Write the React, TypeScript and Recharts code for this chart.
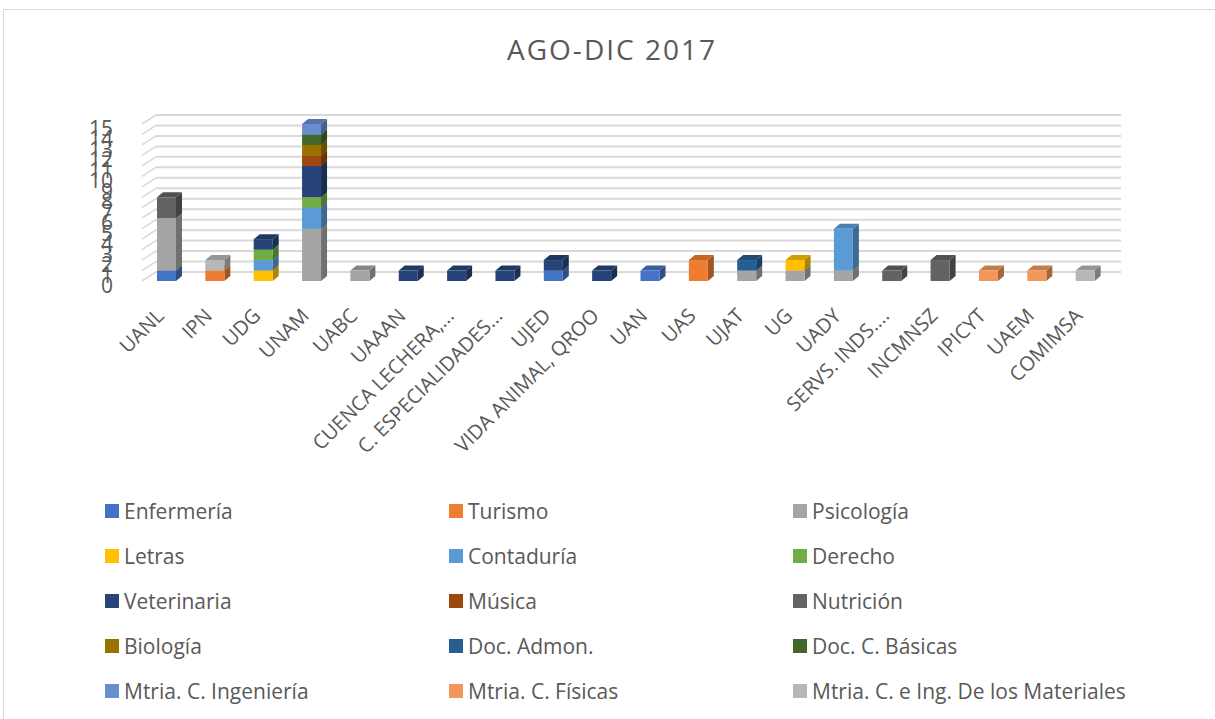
import { BarChart, Bar, XAxis, YAxis, CartesianGrid, Legend } from "recharts";

// institutions on the x axis
const categories = [
  "UANL", "IPN", "UDG", "UNAM", "UABC", "UAAAN", "CUENCA LECHERA,...", "C. ESPECIALIDADES...",
  "UJED", "VIDA ANIMAL, QROO", "UAN", "UAS", "UJAT", "UG", "UADY", "SERVS. INDS....",
  "INCMNSZ", "IPICYT", "UAEM", "COMIMSA",
];

const yTicks = [0, 1, 2, 3, 4, 5, 6, 7, 8, 9, 10, 11, 12, 13, 14, 15];

// one list per career, same order as categories
const enfermeria = [1, 0, 0, 0, 0, 0, 0, 0, 1, 0, 1, 0, 0, 0, 0, 0, 0, 0, 0, 0];
const turismo = [0, 1, 0, 0, 0, 0, 0, 0, 0, 0, 0, 2, 0, 0, 0, 0, 0, 0, 0, 0];
const psicologia = [5, 0, 0, 5, 1, 0, 0, 0, 0, 0, 0, 0, 1, 1, 1, 0, 0, 0, 0, 0];
const letras = [0, 0, 1, 0, 0, 0, 0, 0, 0, 0, 0, 0, 0, 1, 0, 0, 0, 0, 0, 0];
const contaduria = [0, 0, 1, 2, 0, 0, 0, 0, 0, 0, 0, 0, 0, 0, 4, 0, 0, 0, 0, 0];
const derecho = [0, 0, 1, 1, 0, 0, 0, 0, 0, 0, 0, 0, 0, 0, 0, 0, 0, 0, 0, 0];
const veterinaria = [0, 0, 1, 3, 0, 1, 1, 1, 1, 1, 0, 0, 0, 0, 0, 0, 0, 0, 0, 0];
const musica = [0, 0, 0, 1, 0, 0, 0, 0, 0, 0, 0, 0, 0, 0, 0, 0, 0, 0, 0, 0];
const nutricion = [2, 0, 0, 0, 0, 0, 0, 0, 0, 0, 0, 0, 0, 0, 0, 1, 2, 0, 0, 0];
const biologia = [0, 0, 0, 1, 0, 0, 0, 0, 0, 0, 0, 0, 0, 0, 0, 0, 0, 0, 0, 0];
const docAdmon = [0, 0, 0, 0, 0, 0, 0, 0, 0, 0, 0, 0, 1, 0, 0, 0, 0, 0, 0, 0];
const docBasicas = [0, 0, 0, 1, 0, 0, 0, 0, 0, 0, 0, 0, 0, 0, 0, 0, 0, 0, 0, 0];
const mtriaIngenieria = [0, 0, 0, 1, 0, 0, 0, 0, 0, 0, 0, 0, 0, 0, 0, 0, 0, 0, 0, 0];
const mtriaFisicas = [0, 0, 0, 0, 0, 0, 0, 0, 0, 0, 0, 0, 0, 0, 0, 0, 0, 1, 1, 0];
const mtriaMateriales = [0, 1, 0, 0, 0, 0, 0, 0, 0, 0, 0, 0, 0, 0, 0, 0, 0, 0, 0, 1];

const series = [
  { key: "enf", name: "Enfermería", values: enfermeria, color: "#4472c4" },
  { key: "tur", name: "Turismo", values: turismo, color: "#ed7d31" },
  { key: "psi", name: "Psicología", values: psicologia, color: "#a5a5a5" },
  { key: "let", name: "Letras", values: letras, color: "#ffc000" },
  { key: "con", name: "Contaduría", values: contaduria, color: "#5b9bd5" },
  { key: "der", name: "Derecho", values: derecho, color: "#70ad47" },
  { key: "vet", name: "Veterinaria", values: veterinaria, color: "#264478" },
  { key: "mus", name: "Música", values: musica, color: "#9e480e" },
  { key: "nut", name: "Nutrición", values: nutricion, color: "#636363" },
  { key: "bio", name: "Biología", values: biologia, color: "#997300" },
  { key: "adm", name: "Doc. Admon.", values: docAdmon, color: "#255e91" },
  { key: "bas", name: "Doc. C. Básicas", values: docBasicas, color: "#43682b" },
  { key: "ing", name: "Mtria. C. Ingeniería", values: mtriaIngenieria, color: "#698ed0" },
  { key: "fis", name: "Mtria. C. Físicas", values: mtriaFisicas, color: "#f1975a" },
  { key: "mat", name: "Mtria. C. e Ing. De los Materiales", values: mtriaMateriales, color: "#b7b7b7" },
];

const data = categories.map((name, i) => {
  const row: Record<string, string | number> = { name };
  series.forEach((s) => (row[s.key] = s.values[i]));
  return row;
});

const FONT = "'Open Sans', sans-serif";
const TEXT = "#595959";
const GRID = "#d9d9d9";

// darken a hex colour by factor f
const shade = (hex: string, f: number) => {
  const n = parseInt(hex.slice(1), 16);
  const r = Math.round(((n >> 16) & 255) * f);
  const g = Math.round(((n >> 8) & 255) * f);
  const b = Math.round((n & 255) * f);
  return `rgb(${r},${g},${b})`;
};

// fake 3D box: front face, right side and top
const Box3D = (props: any) => {
  const { x, y, width, height, fill } = props;
  if (!height || height <= 0) return null;
  const dx = 6;
  const dy = 5;
  return (
    <g>
      <polygon
        points={`${x + width},${y + height} ${x + width + dx},${y + height - dy} ${x + width + dx},${y - dy} ${x + width},${y}`}
        fill={shade(fill, 0.68)}
      />
      <polygon
        points={`${x},${y} ${x + dx},${y - dy} ${x + width + dx},${y - dy} ${x + width},${y}`}
        fill={shade(fill, 0.82)}
      />
      <rect x={x} y={y} width={width} height={height} fill={fill} />
    </g>
  );
};

const gridLine = (p: any) => {
  const { x1, y1, x2, key } = p;
  return (
    <g key={key}>
      <line x1={x1} y1={y1} x2={x1 + 14} y2={y1 - 9} stroke={GRID} strokeWidth={1.5} />
      <line x1={x1 + 14} y1={y1 - 9} x2={x2 + 12} y2={y1 - 9} stroke={GRID} strokeWidth={2} />
    </g>
  );
};

const YTick = (p: any) => (
  <text x={p.x - 29} y={p.y + 12} textAnchor="end" fontSize={21} fontFamily={FONT} fill={TEXT}>
    {p.payload.value}
  </text>
);

const XTick = (p: any) => (
  <text
    transform={`translate(${p.x - 1},${p.y + 36}) rotate(-45)`}
    textAnchor="end"
    fontSize={20}
    fontFamily={FONT}
    fill={TEXT}
  >
    {p.payload.value}
  </text>
);

const colX = [105, 449, 793];
const rowY = [511, 556, 601, 646, 691];

// legend in series order, three columns
const LegendGrid = () => (
  <div style={{ position: "relative", width: 1215, height: 719 }}>
    {series.map((s, i) => (
      <div
        key={s.key}
        style={{
          position: "absolute",
          left: colX[i % 3],
          top: rowY[Math.floor(i / 3)] - 15,
          height: 30,
          display: "flex",
          alignItems: "center",
          fontFamily: FONT,
          fontSize: 21,
          color: TEXT,
          whiteSpace: "nowrap",
        }}
      >
        <span style={{ width: 14, height: 14, background: s.color, marginRight: 5, display: "inline-block" }} />
        {s.name}
      </div>
    ))}
  </div>
);

const App = () => (
  <div style={{ position: "absolute", left: 0, top: 0, width: 1215, height: 719, background: "#fff", overflow: "hidden" }}>
    <div style={{ position: "absolute", left: 3, top: 9, width: 1220, height: 720, border: `1px solid ${GRID}` }} />
    <div
      style={{
        position: "absolute",
        left: 0,
        top: 30,
        width: 1224,
        textAlign: "center",
        fontFamily: FONT,
        fontSize: 28,
        letterSpacing: 2,
        color: TEXT,
      }}
    >
      AGO-DIC 2017
    </div>
    <div style={{ position: "absolute", left: 0, top: 0 }}>
      <BarChart
        width={1215}
        height={719}
        data={data}
        margin={{ top: 124, right: 106, left: 102, bottom: 0 }}
        barSize={19}
      >
        <CartesianGrid vertical={false} horizontal={gridLine} />
        <XAxis
          dataKey="name"
          interval={0}
          height={438}
          axisLine={false}
          tickLine={false}
          tickSize={0}
          tickMargin={0}
          tick={<XTick />}
        />
        <YAxis
          width={40}
          domain={[0, 15]}
          ticks={yTicks}
          interval={0}
          axisLine={false}
          tickLine={false}
          tickSize={0}
          tickMargin={0}
          tick={<YTick />}
        />
        <Legend
          layout="horizontal"
          verticalAlign="middle"
          align="center"
          wrapperStyle={{ top: 0, left: 0, width: 1215, height: 719, pointerEvents: "none" }}
          content={<LegendGrid />}
        />
        {series.map((s) => (
          <Bar
            key={s.key}
            dataKey={s.key}
            name={s.name}
            stackId="a"
            fill={s.color}
            shape={<Box3D />}
            isAnimationActive={false}
          />
        ))}
      </BarChart>
    </div>
  </div>
);

export default App;
